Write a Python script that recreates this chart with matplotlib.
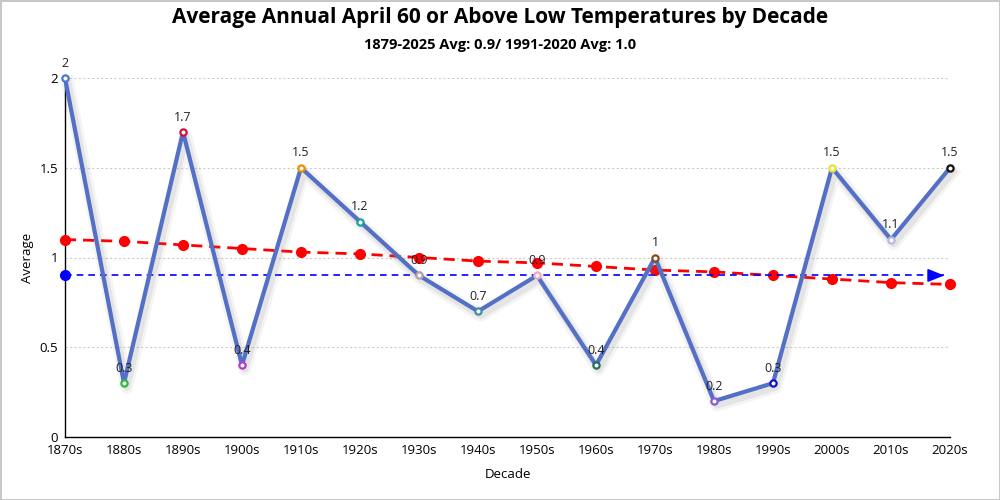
import matplotlib.pyplot as plt
import matplotlib.patheffects as pe

plt.rcParams['font.family'] = ['Open Sans', 'DejaVu Sans']

# data
decades = ['1870s', '1880s', '1890s', '1900s', '1910s', '1920s', '1930s', '1940s',
           '1950s', '1960s', '1970s', '1980s', '1990s', '2000s', '2010s', '2020s']
averages = [2, 0.3, 1.7, 0.4, 1.5, 1.2, 0.9, 0.7, 0.9, 0.4, 1, 0.2, 0.3, 1.5, 1.1, 1.5]
trend = [1.10, 1.09, 1.07, 1.05, 1.03, 1.02, 1.00, 0.98, 0.97, 0.95, 0.93, 0.92,
         0.90, 0.88, 0.86, 0.85]
overall_avg = 0.9
marker_colors = ['#4a78d4', '#2db83d', '#d0103a', '#b13fc6', '#f08a00', '#1aa39a',
                 '#b0a0a8', '#3f8fa8', '#f0a8c0', '#1f6f63', '#8b4a1c', '#8a5cd6',
                 '#1010d0', '#e8e030', '#b8b8e0', '#111111']

fig = plt.figure(figsize=(10, 5), dpi=100)
fig.patch.set_edgecolor('#c8c8c8')
fig.patch.set_linewidth(2)
ax = fig.add_axes([0.065, 0.126, 0.885, 0.718])

x = list(range(len(decades)))

# gridlines
for yv in [0.5, 1, 1.5, 2]:
    ax.axhline(yv, color='#cccccc', lw=0.8, ls=(0, (2, 2)), zorder=0)

# trend line
ax.plot(x, trend, color='red', lw=2, ls=(0, (4, 2.5)), marker='o', markersize=7,
        zorder=3, clip_on=False)

# overall average line with arrow
ax.plot([0, len(x) - 1.1], [overall_avg, overall_avg], color='blue', lw=1.2,
        ls=(0, (4, 3)), zorder=3, clip_on=False)
ax.plot([0], [overall_avg], 'o', color='blue', markersize=7, zorder=4, clip_on=False)
ax.annotate('', xy=(len(x) - 1.05, overall_avg), xytext=(len(x) - 1.35, overall_avg),
            arrowprops=dict(arrowstyle='-|>,head_length=1.0,head_width=0.4',
                            color='blue', lw=1.2), zorder=4, annotation_clip=False)

# main series, with a soft shadow
shadow = [pe.SimpleLineShadow(offset=(2, -3), shadow_color='#777777', alpha=0.08, linewidth=9),
          pe.SimpleLineShadow(offset=(2, -3), shadow_color='#777777', alpha=0.12, linewidth=5),
          pe.Normal()]
ax.plot(x, averages, color='#5470c6', lw=3, zorder=5, clip_on=False, path_effects=shadow)
for xi, yi, c in zip(x, averages, marker_colors):
    ax.plot(xi, yi, 'o', markersize=4.5, markerfacecolor='white', markeredgecolor=c,
            markeredgewidth=1.6, zorder=6, clip_on=False)
    ax.annotate(f'{yi:g}', (xi, yi), xytext=(0, 6), textcoords='offset points',
                ha='center', va='bottom', fontsize=9, color='#222222', zorder=7,
                annotation_clip=False)

ax.set_xlim(0, len(x) - 1)
ax.set_ylim(0, 2)
ax.set_xticks(x)
ax.set_xticklabels(decades, fontsize=9.5)
ax.set_yticks([0, 0.5, 1, 1.5, 2])
ax.set_yticklabels(['0', '0.5', '1', '1.5', '2'], fontsize=9.5)
ax.tick_params(length=0, pad=5)
for s in ['top', 'right']:
    ax.spines[s].set_visible(False)
ax.spines['left'].set_linewidth(1)
ax.spines['bottom'].set_linewidth(1)

ax.set_xlabel('Decade', fontsize=9.5, labelpad=8)
ax.set_ylabel('Average', fontsize=9.5, labelpad=4)

fig.text(0.5, 0.965, 'Average Annual April 60 or Above Low Temperatures by Decade',
         ha='center', va='center', fontsize=15, fontweight='bold')
fig.text(0.5, 0.91, '1879-2025 Avg: 0.9/ 1991-2020 Avg: 1.0',
         ha='center', va='center', fontsize=10.5, fontweight='bold')

plt.savefig('out.png', dpi=100)
